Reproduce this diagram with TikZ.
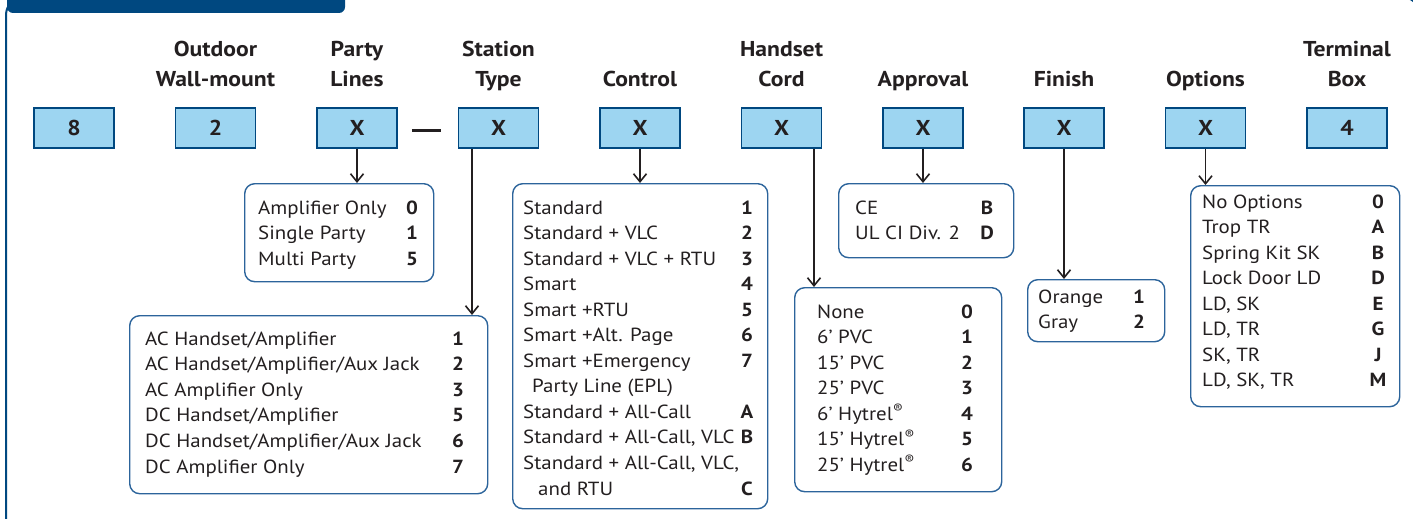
\documentclass[tikz,border=0pt]{standalone}
\usepackage{fontspec}
\setmainfont{PT Sans}[FakeStretch=1.1]
\usetikzlibrary{arrows.meta}
\definecolor{tabblue}{RGB}{0,72,128}
\definecolor{codefill}{RGB}{157,213,241}
\definecolor{lblue}{RGB}{44,100,155}
\definecolor{ink}{RGB}{35,31,32}
\newcommand\optrow[6]{%
  \node[lt] (#1t) at (#2,#4) {#5};
  \node[ln] (#1n) at (#3,#4) {#6};}
\begin{document}
\begin{tikzpicture}[x=1pt,y=-1pt,
  code/.style={draw=tabblue,line width=1.5pt,fill=codefill,minimum width=80pt,minimum height=40pt,inner sep=0pt,font=\fontsize{21.5}{21.5}\selectfont\bfseries,text=ink},
  head/.style={font=\fontsize{21.5}{21.5}\selectfont\bfseries,text=ink,anchor=base,inner sep=0pt},
  lbox/.style={draw=lblue,line width=1.4pt,rounded corners=10pt,inner sep=0pt,anchor=north west},
  lt/.style={font=\fontsize{19}{19}\selectfont,text=ink,anchor=base west,inner sep=0pt},
  ln/.style={font=\fontsize{19}{19}\selectfont\bfseries,text=ink,anchor=base,inner sep=0pt},
  arr/.style={draw=ink,line width=1.5pt,-{Straight Barb[length=8pt,width=13pt,line width=1.6pt]}}]
\useasboundingbox (0,0) rectangle (1413,519);
% frame and tab
\draw[tabblue,line width=2pt,rounded corners=18pt] (6,545) -- (6,-3) -- (1420,-3) -- (1420,545);
\fill[tabblue,rounded corners=6pt] (7,-12) rectangle (345,13);
% code boxes
\node[code] (b1) at (74,128) {8};
\node[code] (b2) at (215.5,128) {2};
\node[code] (b3) at (357,128) {X};
\node[code] (b4) at (498.5,128) {X};
\node[code] (b5) at (640,128) {X};
\node[code] (b6) at (781.5,128) {X};
\node[code] (b7) at (923,128) {X};
\node[code] (b8) at (1064,128) {X};
\node[code] (b9) at (1205.5,128) {X};
\node[code] (b10) at (1347,128) {4};
\coordinate (d1) at ([shift={(14,2)}]b3.east);
\coordinate (d2) at ([shift={(-16.5,2)}]b4.west);
\draw[ink,line width=3pt] (d1) -- (d2);
% headers
\node[head] (h2a) at (215.5,57) {Outdoor};
\node[head] (h2b) at (215.5,86) {Wall-mount};
\node[head] (h3a) at (357,57) {Party};
\node[head] (h3b) at (357,86) {Lines};
\node[head] (h4a) at (498.5,57) {Station};
\node[head] (h4b) at (498.5,86) {Type};
\node[head] (h5) at (640,86) {Control};
\node[head] (h6a) at (781.5,57) {Handset};
\node[head] (h6b) at (781.5,86) {Cord};
\node[head] (h7) at (923,86) {Approval};
\node[head] (h8) at (1064,86) {Finish};
\node[head] (h9) at (1205.5,86) {Options};
\node[head] (h10a) at (1347,57) {Terminal};
\node[head] (h10b) at (1347,86) {Box};
% list boxes
\node[lbox,minimum width=189pt,minimum height=98pt] (pl) at (244,183) {};
\node[lbox,minimum width=358pt,minimum height=178pt] (st) at (129,315) {};
\node[lbox,minimum width=255pt,minimum height=325pt] (ct) at (512,183) {};
\node[lbox,minimum width=207pt,minimum height=204pt] (hc) at (794,287) {};
\node[lbox,minimum width=175pt,minimum height=74pt] (ap) at (838,183) {};
\node[lbox,minimum width=137pt,minimum height=62pt] (fi) at (1027,279) {};
\node[lbox,minimum width=209pt,minimum height=221pt] (op) at (1190,185) {};
% connectors
\draw[arr] (b3.south) -- (b3.south |- pl.north);
\coordinate (s4) at ([xshift=-26.5pt]b4.south);
\draw[arr] (s4) -- (s4 |- st.north);
\draw[arr] (b5.south) -- (b5.south |- ct.north);
\coordinate (s6) at ([xshift=32.5pt]b6.south);
\draw[arr] (s6) -- (s6 |- hc.north);
\draw[arr] (b7.south) -- (b7.south |- ap.north);
\draw[arr] (b8.south) -- (b8.south |- fi.north);
\draw[arr] (b9.south) -- (b9.south |- op.north);
% party lines
\optrow{pl1}{258}{412}{214}{Amplifier Only}{0}
\optrow{pl2}{258}{412}{239.5}{Single Party}{1}
\optrow{pl3}{258}{412}{265}{Multi Party}{5}
% station type
\optrow{st1}{145}{458}{345}{AC Handset/Amplifier}{1}
\optrow{st2}{145}{458}{370.6}{AC Handset/Amplifier/Aux Jack}{2}
\optrow{st3}{145}{458}{396.2}{AC Amplifier Only}{3}
\optrow{st4}{145}{458}{421.8}{DC Handset/Amplifier}{5}
\optrow{st5}{145}{458}{447.4}{DC Handset/Amplifier/Aux Jack}{6}
\optrow{st6}{145}{458}{473}{DC Amplifier Only}{7}
% control
\optrow{ct1}{523}{747}{214}{Standard}{1}
\optrow{ct2}{523}{747}{239.5}{Standard + VLC}{2}
\optrow{ct3}{523}{747}{265.1}{Standard + VLC + RTU}{3}
\optrow{ct4}{523}{747}{290.6}{Smart}{4}
\optrow{ct5}{523}{747}{316.2}{Smart +RTU}{5}
\optrow{ct6}{523}{747}{341.7}{Smart +Alt. Page}{6}
\optrow{ct7}{523}{747}{367.3}{Smart +Emergency}{7}
\node[lt] (ct8t) at (532,392.8) {Party Line (EPL)};
\optrow{ct9}{523}{747}{418.4}{Standard + All-Call}{A}
\optrow{ct10}{523}{747}{443.9}{Standard + All-Call, VLC}{B}
\node[lt] (ct11t) at (523,469.5) {Standard + All-Call, VLC,};
\optrow{ct12}{538}{747}{495}{and RTU}{C}
% handset cord
\optrow{hc1}{817}{967}{318}{None}{0}
\optrow{hc2}{817}{967}{343.5}{6’ PVC}{1}
\optrow{hc3}{817}{967}{369}{15’ PVC}{2}
\optrow{hc4}{817}{967}{394.5}{25’ PVC}{3}
\optrow{hc5}{817}{967}{420}{6’ Hytrel\textsuperscript{®}}{4}
\optrow{hc6}{817}{967}{445.5}{15’ Hytrel\textsuperscript{®}}{5}
\optrow{hc7}{817}{967}{471}{25’ Hytrel\textsuperscript{®}}{6}
% approval
\optrow{ap1}{855}{987}{214}{CE}{B}
\optrow{ap2}{855}{987}{239.5}{UL CI Div. 2}{D}
% finish
\optrow{fi1}{1038}{1139}{303}{Orange}{1}
\optrow{fi2}{1038}{1139}{328.5}{Gray}{2}
% options
\optrow{op1}{1202}{1378}{208}{No Options}{0}
\optrow{op2}{1202}{1378}{233.5}{Trop TR}{A}
\optrow{op3}{1202}{1378}{259}{Spring Kit SK}{B}
\optrow{op4}{1202}{1378}{284.5}{Lock Door LD}{D}
\optrow{op5}{1202}{1378}{310}{LD, SK}{E}
\optrow{op6}{1202}{1378}{335.5}{LD, TR}{G}
\optrow{op7}{1202}{1378}{361}{SK, TR}{J}
\optrow{op8}{1202}{1378}{386.5}{LD, SK, TR}{M}
\end{tikzpicture}
\end{document}
